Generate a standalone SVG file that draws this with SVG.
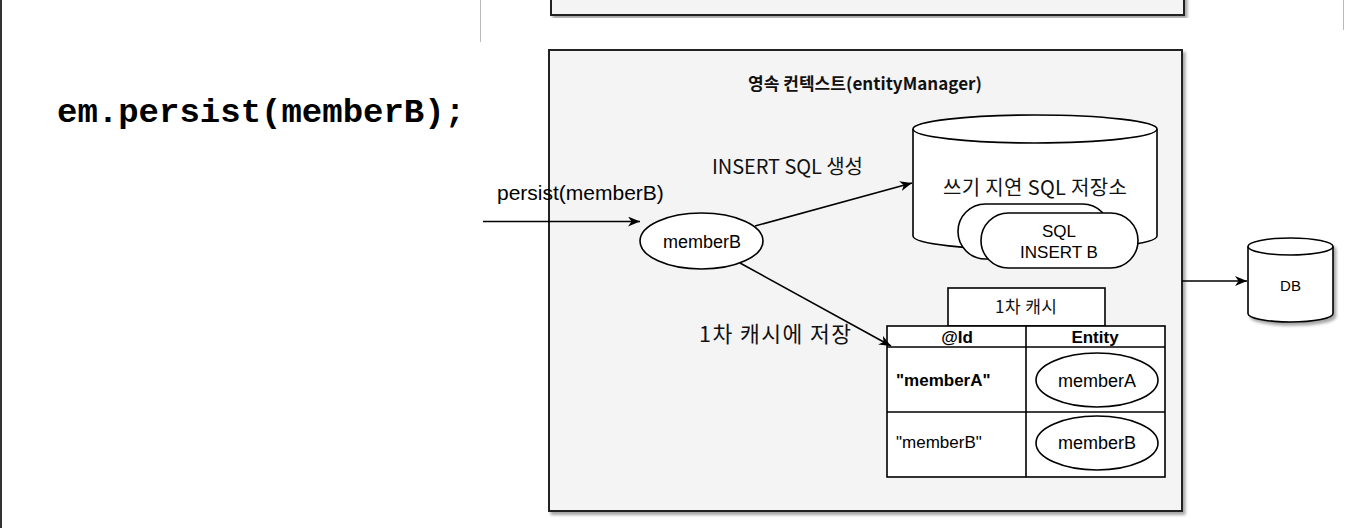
<svg xmlns="http://www.w3.org/2000/svg" width="1346" height="528" viewBox="0 0 1346 528">
<style>
.ln{fill:none;stroke:#000;stroke-width:1.6}
.sh{fill:#fff;stroke:#000;stroke-width:1.6}
.lat{font-family:"Liberation Sans",Arial,sans-serif;fill:#000}
.kr{font-family:"Noto Sans CJK KR","Liberation Sans",sans-serif;fill:#111}
.mid{text-anchor:middle}
</style>
<defs>
<filter id="shadow" x="-5%" y="-5%" width="115%" height="115%">
<feDropShadow dx="2.5" dy="3" stdDeviation="1.5" flood-color="#000" flood-opacity="0.35"/>
</filter>
<marker id="arr" viewBox="0 0 12 10" refX="12" refY="5" markerWidth="12" markerHeight="10" markerUnits="userSpaceOnUse" orient="auto">
<path d="M0,0 L12,5 L0,10 L3.5,5 Z" fill="#000"/>
</marker>
</defs>
<rect width="1346" height="528" fill="#fff"/>
<line x1="1" y1="0" x2="1" y2="528" stroke="#333" stroke-width="2"/>
<line x1="480.5" y1="0" x2="480.5" y2="42" stroke="#bbb" stroke-width="1"/>
<line x1="1343.5" y1="0" x2="1343.5" y2="30" stroke="#bbb" stroke-width="1"/>

<g id="top-box">
<rect x="551" y="-6" width="633" height="21" fill="#f4f4f4" stroke="#222" stroke-width="2" filter="url(#shadow)"/>
</g>

<g id="code">
<text x="57" y="122" font-family="'Liberation Mono','Courier New',monospace" font-weight="bold" font-size="34" fill="#000">em.persist(memberB);</text>
</g>

<g id="persistence-context">
<rect x="549" y="50" width="633" height="461" fill="#f4f4f4" stroke="#222" stroke-width="2" filter="url(#shadow)"/>
<text x="865" y="90" class="kr mid" font-size="17" font-weight="bold" textLength="234" lengthAdjust="spacing">영속 컨텍스트(entityManager)</text>
</g>

<g id="memberB-node">
<ellipse cx="701.5" cy="241" rx="61.5" ry="28" class="sh"/>
<text x="702" y="248" class="lat mid" font-size="18">memberB</text>
</g>

<g id="write-behind-store">
<path d="M913,129 A122,14 0 0 1 1157,129 L1157,236 A122,14 0 0 1 913,236 Z" class="sh"/>
<path d="M913,129 A122,14 0 0 0 1157,129" class="ln"/>
<text x="1035" y="195" class="kr mid" font-size="20" textLength="184" lengthAdjust="spacing">쓰기 지연 SQL 저장소</text>
<rect x="958" y="204" width="152" height="55" rx="27.5" ry="27.5" class="sh"/>
<rect x="981" y="213" width="157" height="55" rx="27.5" ry="27.5" class="sh"/>
<text x="1059" y="237" class="lat mid" font-size="17">SQL</text>
<text x="1059" y="258" class="lat mid" font-size="17">INSERT B</text>
</g>

<g id="first-level-cache">
<rect x="948" y="288" width="157" height="38" class="sh"/>
<text x="1026" y="313" class="kr mid" font-size="17" textLength="62" lengthAdjust="spacing">1차 캐시</text>
<rect x="887" y="326" width="278" height="151" class="sh"/>
<line x1="1026" y1="326" x2="1026" y2="477" class="ln"/>
<line x1="887" y1="347" x2="1165" y2="347" class="ln"/>
<line x1="887" y1="412" x2="1165" y2="412" class="ln"/>
<text x="957" y="343" class="lat mid" font-size="17" font-weight="bold">@Id</text>
<text x="1095" y="343" class="lat mid" font-size="17" font-weight="bold">Entity</text>
<text x="896" y="386" class="lat" font-size="17" font-weight="bold">"memberA"</text>
<text x="896" y="448" class="lat" font-size="17">"memberB"</text>
<ellipse cx="1097" cy="380" rx="61" ry="27" class="sh"/>
<text x="1097" y="387" class="lat mid" font-size="18">memberA</text>
<ellipse cx="1097" cy="443" rx="61" ry="27" class="sh"/>
<text x="1097" y="449" class="lat mid" font-size="18">memberB</text>
</g>

<g id="db">
<path d="M1248,246.5 A42.5,8.5 0 0 1 1333,246.5 L1333,313.5 A42.5,8.5 0 0 1 1248,313.5 Z" class="sh" filter="url(#shadow)"/>
<path d="M1248,246.5 A42.5,8.5 0 0 0 1333,246.5" class="ln"/>
<text x="1290.5" y="291" class="lat mid" font-size="15">DB</text>
</g>

<g id="connectors">
<line x1="483" y1="221.5" x2="640" y2="221.5" class="ln" marker-end="url(#arr)"/>
<line x1="755" y1="226" x2="912" y2="183" class="ln" marker-end="url(#arr)"/>
<line x1="740" y1="263" x2="891" y2="346" class="ln" marker-end="url(#arr)"/>
<line x1="1182" y1="281" x2="1247" y2="281" class="ln" marker-end="url(#arr)"/>
<text x="497" y="200" class="lat" font-size="21">persist(memberB)</text>
<text x="712" y="174" class="kr" font-size="20" textLength="151" lengthAdjust="spacing">INSERT SQL 생성</text>
<text x="699" y="342" class="kr" font-size="21.5" textLength="152" lengthAdjust="spacing">1차 캐시에 저장</text>
</g>
</svg>
